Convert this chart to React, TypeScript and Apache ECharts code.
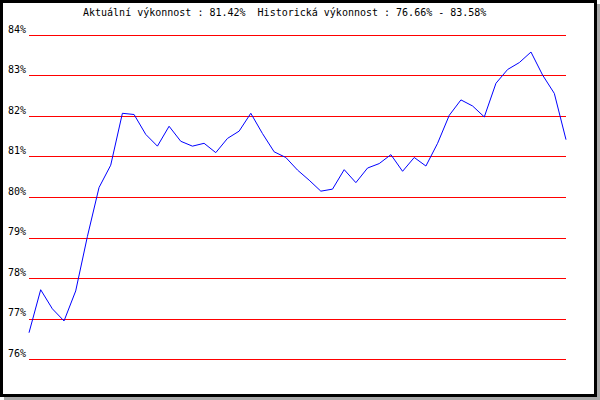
import React, { useEffect, useRef } from "react";
import * as echarts from "echarts";

const categories: string[] = Array.from({ length: 47 }, (_, i) => String(i + 1));
const performance: number[] = [
  76.66, 77.72, 77.25, 76.95, 77.69, 79.03, 80.24, 80.79, 82.07, 82.04,
  81.55, 81.26, 81.75, 81.38, 81.26, 81.33, 81.10, 81.45, 81.63, 82.07,
  81.57, 81.12, 80.98, 80.67, 80.42, 80.15, 80.20, 80.68, 80.36, 80.72,
  80.83, 81.05, 80.64, 80.98, 80.77, 81.33, 82.02, 82.40, 82.25, 81.98,
  82.81, 83.15, 83.32, 83.58, 83.01, 82.56, 81.42,
];
const yTicks: number[] = [76, 77, 78, 79, 80, 81, 82, 83, 84];
const titleText = "Aktuální výkonnost : 81.42%  Historická výkonnost : 76.66% - 83.58%";

export default function App() {
  const ref = useRef<HTMLDivElement>(null);
  useEffect(() => {
    document.body.style.margin = "0";
    if (!ref.current) return;
    const chart = echarts.init(ref.current, null, { renderer: "svg" });
    const font = "'DejaVu Sans Mono', monospace";
    chart.setOption({
      animation: false,
      backgroundColor: "transparent",
      graphic: [
        { type: "rect", z: -10, silent: true, shape: { x: 4, y: 4, width: 596, height: 396 }, style: { fill: "#a9a9a9" } },
        { type: "rect", z: -9, silent: true, shape: { x: 0, y: 0, width: 597, height: 397 }, style: { fill: "#000000" } },
        { type: "rect", z: -8, silent: true, shape: { x: 3, y: 3, width: 591, height: 391 }, style: { fill: "#ffffff" } },
        {
          type: "text",
          z: 10,
          left: 83,
          top: 7,
          style: { text: titleText, fill: "#000", font: `10px ${font}` },
        },
      ],
      grid: { left: 29, right: 34, top: 35, bottom: 40.5, containLabel: false },
      xAxis: {
        type: "category",
        data: categories,
        boundaryGap: false,
        axisLine: { show: false },
        axisTick: { show: false },
        axisLabel: { show: false },
        splitLine: { show: false },
      },
      yAxis: {
        type: "value",
        min: yTicks[0],
        max: yTicks[yTicks.length - 1],
        interval: 1,
        axisLine: { show: false },
        axisTick: { show: false },
        axisLabel: {
          formatter: (v: number) => `${v}%`,
          fontFamily: font,
          fontSize: 10,
          color: "#000",
          margin: 3,
          verticalAlign: "bottom",
          padding: [0, 0, 1, 0],
        },
        splitLine: { show: true, lineStyle: { color: "#ff0000", width: 1 } },
      },
      series: [
        {
          type: "line",
          data: performance,
          showSymbol: false,
          symbol: "none",
          lineStyle: { color: "#0000ff", width: 1 },
          z: 5,
        },
      ],
    });
    return () => chart.dispose();
  }, []);
  return <div ref={ref} style={{ width: 600, height: 400 }} />;
}
